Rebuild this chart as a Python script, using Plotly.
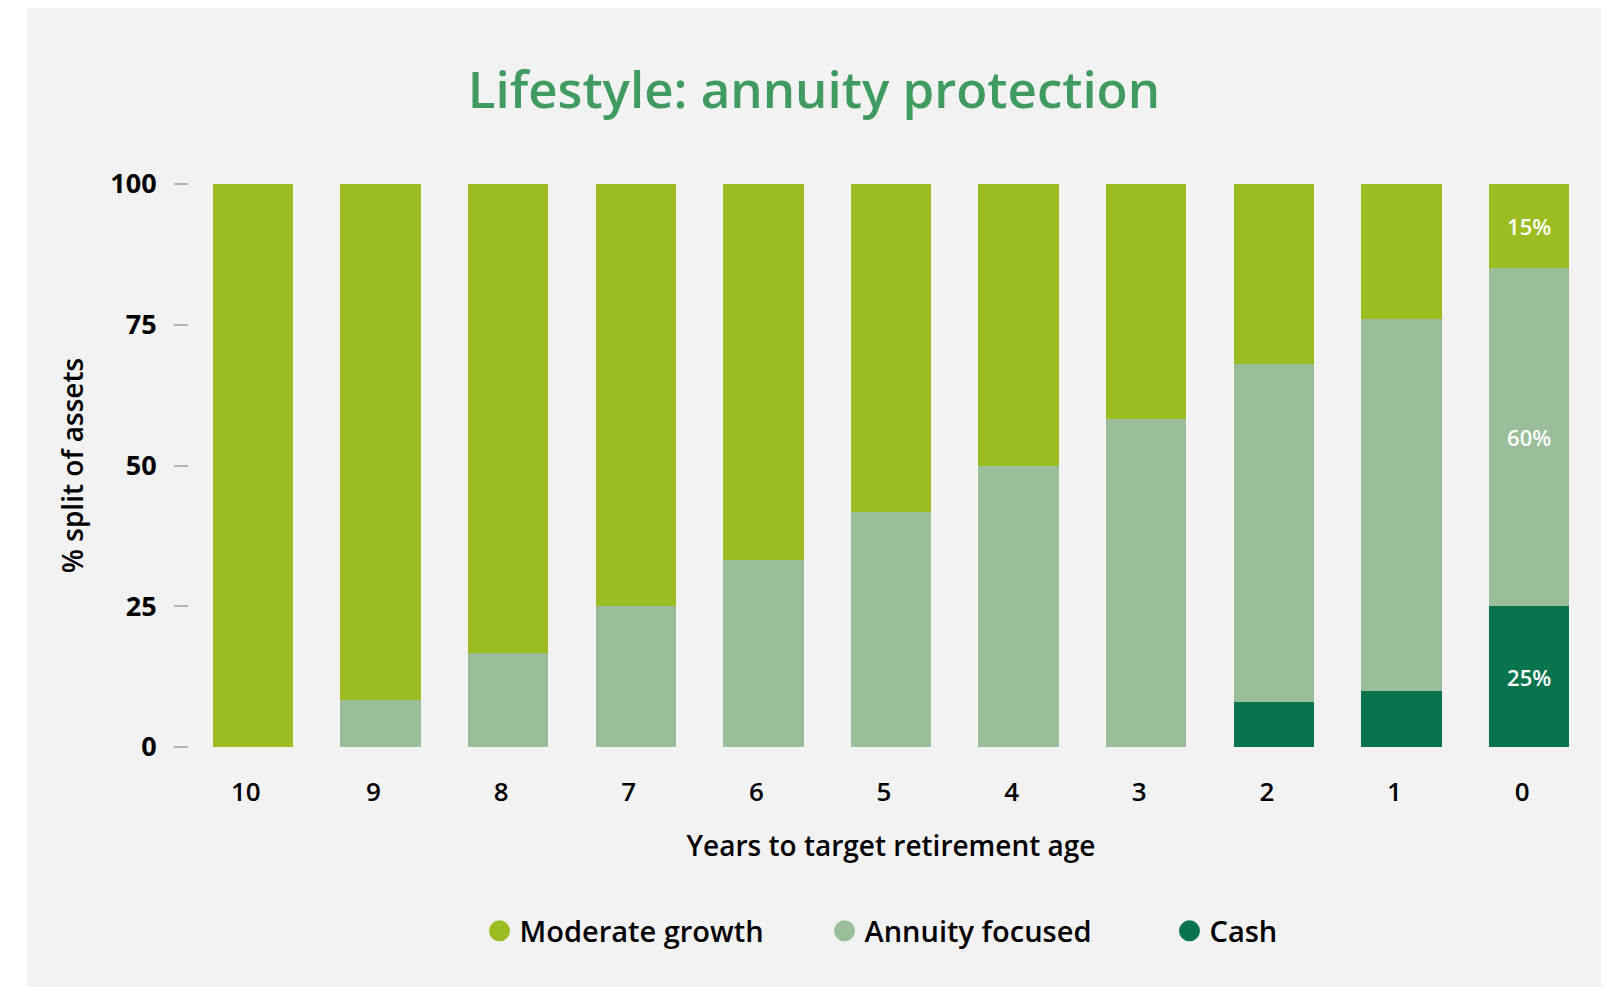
import plotly.graph_objects as go

# Данные: доли активов по годам до пенсии
years = ["10", "9", "8", "7", "6", "5", "4", "3", "2", "1", "0"]
moderate_growth = [100, 91.7, 83.3, 75, 66.7, 58.3, 50, 41.7, 32, 24, 15]
annuity_focused = [0, 8.3, 16.7, 25, 33.3, 41.7, 50, 58.3, 60, 66, 60]
cash = [0, 0, 0, 0, 0, 0, 0, 0, 8, 10, 25]
y_ticks = [0, 25, 50, 75, 100]

series = [
    ("Cash", cash, "#08744E"),
    ("Annuity focused", annuity_focused, "#99BE99"),
    ("Moderate growth", moderate_growth, "#9CBD21"),
]

FONT = "Open Sans"
# страница браузера добавляет поле 8px, поэтому фигура сдвинута
W, H = 1595, 979
L, R, T, B = 181, 10, 176, 240
PW, PH = W - L - R, H - T - B


def px_x(x):
    return (x - L) / PW


def px_y(y):
    return (H - B - y) / PH


def last_label(values):
    # подпись только у последнего столбца
    return ["" if i < len(values) - 1 else f"{v:.0f}%" for i, v in enumerate(values)]


fig = go.Figure()
for name, values, color in series:
    fig.add_trace(go.Bar(
        x=years, y=values, name=name, marker=dict(color=color, line=dict(width=0)),
        text=last_label(values), textposition="inside", insidetextanchor="middle",
        textfont=dict(family=FONT, size=22, color="white", weight=600),
        showlegend=False, hoverinfo="x+y+name",
    ))

# легенда с круглыми маркерами
for name, values, color in reversed(series):
    fig.add_trace(go.Scatter(
        x=[None], y=[None], mode="markers", name=name,
        marker=dict(symbol="circle", size=16, color=color, line=dict(width=5, color=color)),
    ))

# светло-серая подложка
fig.add_shape(
    type="rect", xref="paper", yref="paper", layer="below",
    x0=px_x(19), x1=px_x(1593), y0=px_y(H), y1=px_y(0),
    fillcolor="#F2F2F2", line=dict(width=0),
)

fig.update_layout(
    width=W, height=H,
    margin=dict(l=L, r=R, t=T, b=B, autoexpand=False),
    paper_bgcolor="white", plot_bgcolor="rgba(0,0,0,0)",
    barmode="stack", bargap=0.37,
    title=dict(
        text="Lifestyle: annuity protection", x=806 / W, xanchor="center",
        y=1 - 82 / H, yanchor="middle",
        font=dict(family=FONT, size=51, color="#409B60", weight=600),
    ),
    xaxis=dict(
        type="category", showgrid=False, zeroline=False, showline=False, ticks="",
        tickfont=dict(family=FONT, size=26, color="black", weight=600),
        ticklabelstandoff=27, ticklabelshift=-7,
        title=dict(text="Years to target retirement age", standoff=28,
                   font=dict(family=FONT, size=28, color="black", weight=600)),
    ),
    yaxis=dict(
        range=[0, 100], tickvals=y_ticks, showgrid=False, zeroline=False, showline=False,
        ticks="outside", ticklen=14, tickwidth=2, tickcolor="#B5B5B5",
        ticklabelstandoff=12,
        tickfont=dict(family=FONT, size=27, color="black", weight=700),
        title=dict(text="% split of assets", standoff=18,
                   font=dict(family=FONT, size=28, color="black", weight=600)),
    ),
    legend=dict(
        orientation="h", traceorder="normal", x=px_x(989), xanchor="center",
        y=px_y(923), yanchor="middle",
        font=dict(family=FONT, size=29, color="black", weight=600),
        entrywidth=300, entrywidthmode="pixels", bgcolor="rgba(0,0,0,0)",
    ),
)

fig.write_html("out.html")
